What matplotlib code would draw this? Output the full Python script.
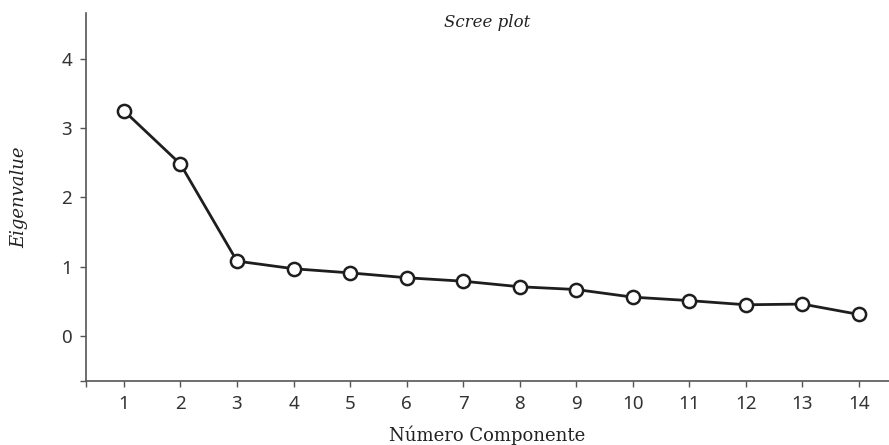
import matplotlib
matplotlib.use("Agg")
import matplotlib.pyplot as plt

components = [1, 2, 3, 4, 5, 6, 7, 8, 9, 10, 11, 12, 13, 14]
eigenvalues = [3.25, 2.48, 1.08, 0.97, 0.91, 0.84, 0.79, 0.71, 0.67, 0.56, 0.51, 0.45, 0.46, 0.31]
y_ticks = [0, 1, 2, 3, 4]

fig = plt.figure(figsize=(8.89, 4.45), dpi=100)
ax = fig.add_axes([86/889, 1-381/445, 1-86/889, (381-13)/445])

ax.plot(components, eigenvalues, color="#1e1e1e", lw=2.0, marker="o", ms=9.5,
        mfc="white", mec="#1e1e1e", mew=1.8, zorder=3)

xmin, xmax = 0.33, 14.53
ymin, ymax = -0.65, 4.66
ax.set_xlim(xmin, xmax)
ax.set_ylim(ymin, ymax)
ax.set_xticks(components)
ax.set_yticks(y_ticks)
ax.set_xticks([xmin], minor=True)
ax.set_yticks([ymin], minor=True)
for s in ["top", "right"]:
    ax.spines[s].set_visible(False)
for s in ["left", "bottom"]:
    ax.spines[s].set_color("#555555")
    ax.spines[s].set_linewidth(1.2)
ax.tick_params(which="both", direction="out", length=4, width=1, color="#555555")
ax.tick_params(labelsize=13.5, labelcolor="#333333", pad=6)
for lab in ax.get_xticklabels() + ax.get_yticklabels():
    lab.set_fontfamily("Noto Sans")

ax.set_xlabel("Número Componente", fontsize=13, family="DejaVu Serif", color="#222222", labelpad=9)
ax.set_ylabel("Eigenvalue", fontsize=13, family="DejaVu Serif", style="italic", color="#222222", labelpad=24)
ax.text(0.5, 0.997, "Scree plot", transform=ax.transAxes, ha="center", va="top",
        fontsize=12, family="DejaVu Serif", style="italic", color="#222222")

fig.savefig("out.png", dpi=100)
